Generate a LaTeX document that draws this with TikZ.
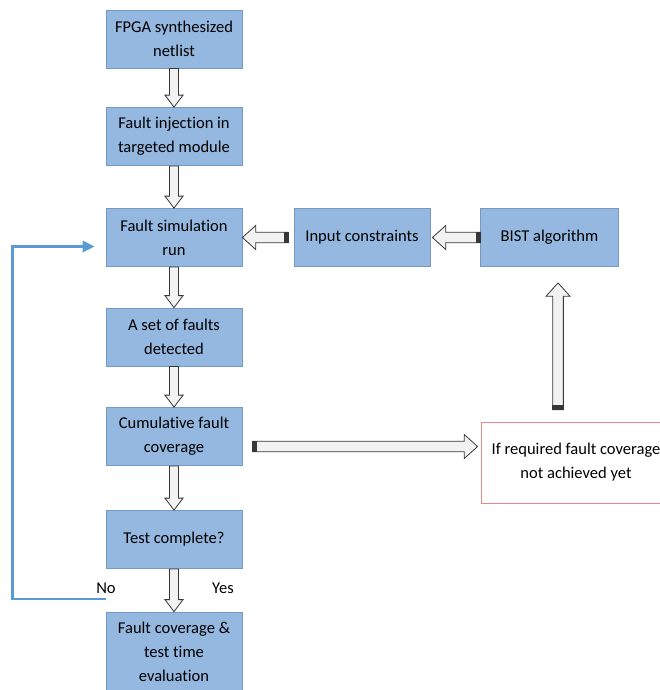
\documentclass[tikz,border=0pt]{standalone}
\usepackage{fontspec}
\setmainfont{Carlito}[Ligatures=NoCommon]
\usetikzlibrary{calc,arrows.meta}

\definecolor{boxfill}{RGB}{149,184,224}
\definecolor{boxline}{RGB}{118,152,196}
\definecolor{arrowfill}{RGB}{242,242,242}
\definecolor{arrowline}{RGB}{55,55,55}
\definecolor{loopblue}{RGB}{91,155,213}
\definecolor{redline}{RGB}{228,140,140}

\newcommand{\boxfont}{\fontsize{12.4}{18}\selectfont}

\tikzset{
    shafthalf/.store in=\shafthalf, headhalf/.store in=\headhalf, headlen/.store in=\headlen,
    shafthalf=3.4pt, headhalf=6.8pt, headlen=9pt,
    block/.style={rectangle, draw=boxline, fill=boxfill, line width=0.6pt, minimum width=102pt,
        minimum height=43.5pt, align=center, font=\boxfont, text=black, inner sep=2pt},
    redbox/.style={rectangle, draw=redline, fill=white, line width=0.6pt, minimum width=142.5pt,
        minimum height=60.75pt, align=center, font=\boxfont, text=black},
    lbl/.style={font=\boxfont, text=black, inner sep=0pt},
    fatarrow/.style={draw=arrowline, fill=arrowfill, line width=0.6pt, line join=miter,
        to path={let \p1=($(\tikztotarget)-(\tikztostart)$), \n1={veclen(\x1,\y1)}, \n2={atan2(\y1,\x1)} in
            ([shift={(\tikztostart)},rotate=\n2]0pt,-\shafthalf)
            -- ([shift={(\tikztostart)},rotate=\n2]\n1-\headlen,-\shafthalf)
            -- ([shift={(\tikztostart)},rotate=\n2]\n1-\headlen,-\headhalf)
            -- ([shift={(\tikztostart)},rotate=\n2]\n1,0pt)
            -- ([shift={(\tikztostart)},rotate=\n2]\n1-\headlen,\headhalf)
            -- ([shift={(\tikztostart)},rotate=\n2]\n1-\headlen,\shafthalf)
            -- ([shift={(\tikztostart)},rotate=\n2]0pt,\shafthalf) -- cycle}},
    bigarrow/.style={fatarrow, shafthalf=4pt, headhalf=9pt, headlen=10pt},
    tailband/.style={fill=arrowline, draw=arrowline, line width=0.6pt,
        to path={let \p1=($(\tikztotarget)-(\tikztostart)$), \n2={atan2(\y1,\x1)} in
            ([shift={(\tikztostart)},rotate=\n2]0pt,-\shafthalf)
            rectangle ([shift={(\tikztostart)},rotate=\n2]3pt,\shafthalf)}},
    feedback/.style={draw=loopblue, line width=2pt, -{Triangle[length=9pt,width=8.5pt]}},
}

\begin{document}
\begin{tikzpicture}[x=0.75pt, y=-0.75pt]
    \useasboundingbox (0,0) rectangle (660,690);
    % main column
    \begin{scope}
        \tikzstyle{every node}=[block]
        \node (netlist) at (174,39) {FPGA synthesized\\netlist};
        \node (inject) at (174,136.5) {Fault injection in\\targeted module};
        \node (fsim) at (174,237.5) {Fault simulation\\run};
        \node (faults) at (174,337) {A set of faults\\detected};
        \node (cum) at (174,436.5) {Cumulative fault\\coverage};
        \node (tcomp) at (174,539.5) {Test complete?};
        \node[minimum height=60pt] (eval) at (174,652) {Fault coverage \&\\test time\\evaluation};
        \node (input) at (362,237.5) {Input constraints};
        \node[minimum width=103pt] (bist) at (549.5,237.5) {BIST algorithm};
    \end{scope}
    \node[redbox] (ifreq) at (576,462.5) {If required fault coverage\\not achieved yet};
    \node[lbl] (nolbl) at (106,588) {No};
    \node[lbl] (yeslbl) at (223,588) {Yes};

    % helper points
    \coordinate (inputout) at ([xshift=-4pt]input.west);
    \coordinate (inputin) at ([xshift=1.5pt]input.east);
    \coordinate (cumout) at ([yshift=-7.5pt]cum.east);
    \coordinate (cumtail) at ([xshift=7.5pt]cumout);
    \coordinate (reqin) at (cumout -| ifreq.west);
    \coordinate (reqtip) at ([xshift=-2.25pt]reqin);
    \coordinate (bistin) at ([xshift=6.4pt]bist.south);
    \coordinate (bisttip) at ([yshift=-12pt]bistin);
    \coordinate (reqtop) at (bistin |- ifreq.north);
    \coordinate (reqout) at ([yshift=9pt]reqtop);
    \coordinate (nostart) at ([yshift=-22.5pt]tcomp.south west);
    \coordinate (fsimin) at ([yshift=-6.75pt, xshift=-8.25pt]fsim.west);

    % block arrows
    \path[fatarrow]
        (netlist.south) to (inject.north)
        (inject.south) to (fsim.north)
        (fsim.south) to (faults.north)
        (faults.south) to (cum.north)
        (cum.south) to (tcomp.north)
        (tcomp.south) to (eval.north)
        ;
    \path[bigarrow]
        (inputout) to (fsim.east)
        (bist.west) to (inputin)
        (cumtail) to (reqtip)
        (reqout) to (bisttip)
        ;
    \path[bigarrow, tailband]
        (inputout) to (fsim.east)
        (bist.west) to (inputin)
        (cumtail) to (reqtip)
        (reqout) to (bisttip)
        ;

    % loop back
    \draw[feedback] (nostart) -- ++(-93,0) |- (fsimin);
\end{tikzpicture}
\end{document}
